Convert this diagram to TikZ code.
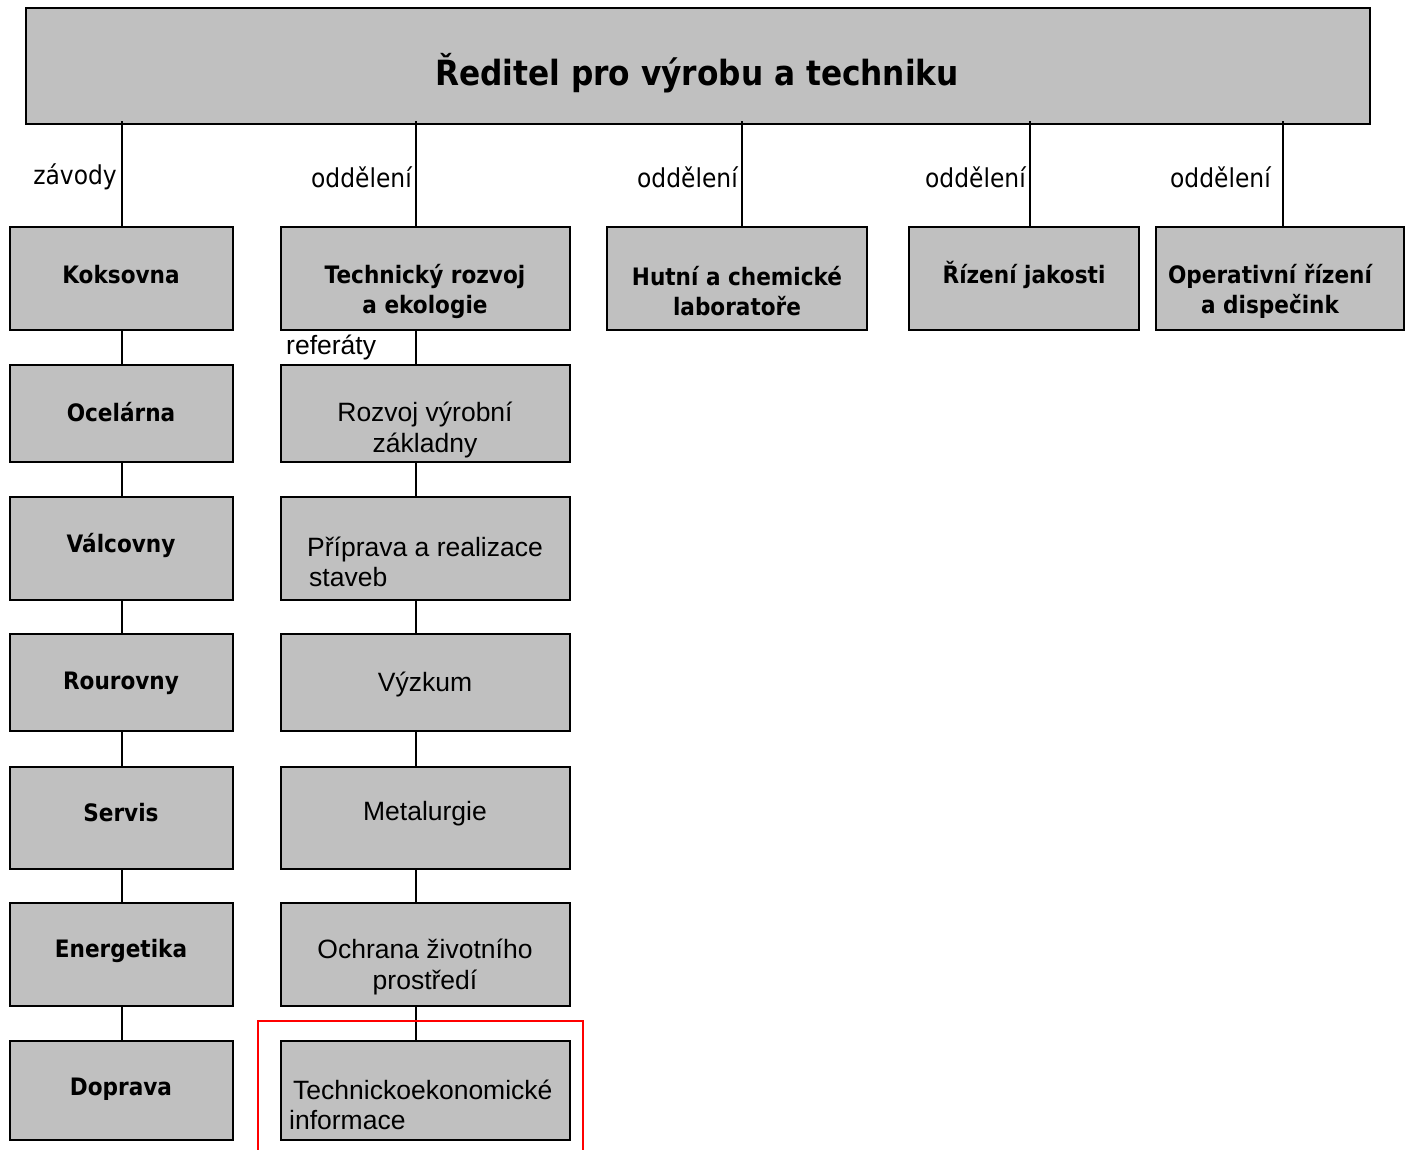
\documentclass[tikz,border=0pt]{standalone}
\usepackage{fontspec}
\setmainfont{Liberation Sans}
\newfontfamily\tah[FakeStretch=0.9]{DejaVu Sans}
\usetikzlibrary{calc}
\begin{document}
\begin{tikzpicture}[x=1pt,y=-1pt,
  box/.style={draw=black,line width=2.4pt,fill=boxgray,inner sep=0pt},
  bt/.style={font=\tah\bfseries\fontsize{24}{30}\selectfont,align=center,inner sep=0pt},
  rt/.style={font=\fontsize{26.5}{30.5}\selectfont,align=center,inner sep=0pt},
  lt/.style={font=\tah\fontsize{26}{30}\selectfont,inner sep=0pt},
  conn/.style={line width=2pt}]
\definecolor{boxgray}{HTML}{C0C0C0}
\useasboundingbox (0,0) rectangle (1405,1150);
% top
\node[box,minimum width=1344pt,minimum height=116pt] (top) at (698,66) {};
\node[font=\tah\bfseries\fontsize{34.7}{40}\selectfont,inner sep=0pt] (toptext) at (697,73) {Ředitel pro výrobu a techniku};
% column 1
\foreach \n/\c/\h in {k1/278.5/103,k2/413.5/97,k3/548.5/103,k4/682.5/97,k5/818/102,k6/954.5/103,k7/1090.5/99}{
  \node[box,minimum width=223pt,minimum height=\h pt] (\n) at (121.5,\c) {};
}
\foreach \n/\c/\h in {t1/278.5/103,t2/413.5/97,t3/548.5/103,t4/682.5/97,t5/818/102,t6/954.5/103,t7/1090.5/99}{
  \node[box,minimum width=289pt,minimum height=\h pt] (\n) at (425.5,\c) {};
}
\node[box,minimum width=260pt,minimum height=103pt] (h1) at (737,278.5) {};
\node[box,minimum width=230pt,minimum height=103pt] (r1) at (1024,278.5) {};
\node[box,minimum width=248pt,minimum height=103pt] (o1) at (1280,278.5) {};
% texts
\node[bt] (k1t) at (121,275) {Koksovna};
\node[bt] (k2t) at (121,412) {Ocelárna};
\node[bt] (k3t) at (121,545) {Válcovny};
\node[bt] (k4t) at (121,683) {Rourovny};
\node[bt] (k5t) at (121,813) {Servis};
\node[bt] (k6t) at (121,951) {Energetika};
\node[bt] (k7t) at (121,1089) {Doprava};
\node[bt] (t1t) at (425,291) {Technický rozvoj\\a ekologie};
\node[rt] (t2t) at (425,430) {Rozvoj výrobní\\základny};
\node[rt,align=left,anchor=west] (t3t) at (307,562) {Příprava a realizace\\\hspace*{2pt}staveb};
\node[rt] (t4t) at (425,684) {Výzkum};
\node[rt] (t5t) at (425,814) {Metalurgie};
\node[rt] (t6t) at (425,967) {Ochrana životního\\prostředí};
\node[rt,align=left,anchor=west] (t7t) at (289,1105) {\hspace*{4pt}Technickoekonomické\\informace};
\node[bt] (h1t) at (737,291) {Hutní a chemické\\laboratoře};
\node[bt] (r1t) at (1024,275) {Řízení jakosti};
\node[bt] (o1t) at (1270,291) {Operativní řízení\\a dispečink};
% connector columns
\coordinate (x1) at (122,0);
\coordinate (x2) at (416,0);
\coordinate (x3) at (742,0);
\coordinate (x4) at (1030,0);
\coordinate (x5) at (1283,0);
\draw[conn] ([yshift=4pt]top.south -| x1) -- (k1.north -| x1);
\draw[conn] ([yshift=4pt]top.south -| x2) -- (t1.north -| x2);
\draw[conn] ([yshift=4pt]top.south -| x3) -- (h1.north -| x3);
\draw[conn] ([yshift=4pt]top.south -| x4) -- (r1.north -| x4);
\draw[conn] ([yshift=4pt]top.south -| x5) -- (o1.north -| x5);
\foreach \a/\b in {k1/k2,k2/k3,k3/k4,k4/k5,k5/k6,k6/k7}{
  \draw[conn] (\a.south -| x1) -- (\b.north -| x1);
}
\foreach \a/\b in {t1/t2,t2/t3,t3/t4,t4/t5,t5/t6,t6/t7}{
  \draw[conn] (\a.south -| x2) -- (\b.north -| x2);
}
% labels
\node[lt,anchor=east] (l1) at (117,177) {závody};
\node[lt,anchor=east] (l2) at (412,177) {oddělení};
\node[lt,anchor=east] (l3) at (738,177) {oddělení};
\node[lt,anchor=east] (l4) at (1026,177) {oddělení};
\node[lt,anchor=east] (l5) at (1271,177) {oddělení};
\node[rt,anchor=west] (l6) at (286,347) {referáty};
% red frame
\coordinate (ra) at (258,1150);
\coordinate (rb) at (258,1021);
\coordinate (rc) at (583,1021);
\coordinate (rd) at (583,1150);
\draw[red,line width=1.8pt] (ra) -- (rb) -- (rc) -- (rd);
\end{tikzpicture}
\end{document}
